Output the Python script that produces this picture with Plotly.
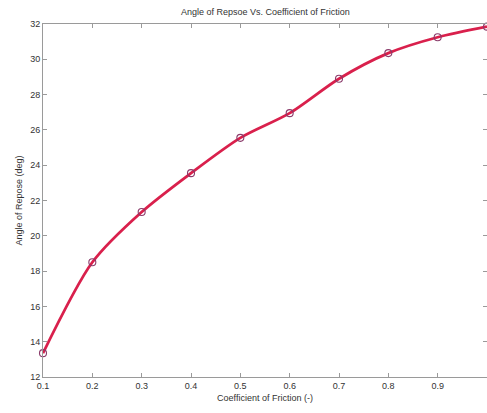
import plotly.graph_objects as go

friction = [0.1, 0.2, 0.3, 0.4, 0.5, 0.6, 0.7, 0.8, 0.9, 1.0]
repose_angle = [13.35, 18.5, 21.35, 23.55, 25.55, 26.95, 28.9, 30.35, 31.25, 31.85]

x_ticks = [0.1, 0.2, 0.3, 0.4, 0.5, 0.6, 0.7, 0.8, 0.9, 1.0]
x_tick_text = ["0.1", "0.2", "0.3", "0.4", "0.5", "0.6", "0.7", "0.8", "0.9", "1"]
y_ticks = [12, 14, 16, 18, 20, 22, 24, 26, 28, 30, 32]

fig = go.Figure()
fig.add_trace(go.Scatter(
    x=friction, y=repose_angle, mode="lines",
    line=dict(color="#d9204c", width=2.8, shape="spline", smoothing=0.8),
    showlegend=False, hoverinfo="skip", cliponaxis=False))
fig.add_trace(go.Scatter(
    x=friction, y=repose_angle, mode="markers",
    marker=dict(symbol="circle-open", size=7, color="#8a3a6a", line=dict(width=1.1)),
    showlegend=False, cliponaxis=False))

axis_common = dict(
    showgrid=False, zeroline=False, showline=True, linecolor="#9a9a9a", linewidth=1,
    mirror="ticks", ticks="inside", ticklen=4, tickcolor="#9a9a9a",
    tickfont=dict(family="Liberation Sans, Arial, sans-serif", size=9, color="#333333"),
)

fig.update_layout(
    width=487, height=413,
    margin=dict(l=43, r=0, t=24, b=36),
    paper_bgcolor="white", plot_bgcolor="white",
    title=dict(text="Angle of Repsoe Vs. Coefficient of Friction",
               font=dict(family="Liberation Sans, Arial, sans-serif", size=9, color="#333333"),
               x=0.545, xanchor="center", y=0.972, yanchor="middle"),
    xaxis=dict(range=[0.1, 1.0], tickvals=x_ticks, ticktext=x_tick_text,
               title=dict(text="Coefficient of Friction (-)", standoff=4,
                          font=dict(family="Liberation Sans, Arial, sans-serif", size=9, color="#333333")),
               **axis_common),
    yaxis=dict(range=[12, 32], tickvals=y_ticks,
               title=dict(text="Angle of Repose (deg)", standoff=6,
                          font=dict(family="Liberation Sans, Arial, sans-serif", size=9, color="#333333")),
               **axis_common),
)

fig.write_html("out.html")
